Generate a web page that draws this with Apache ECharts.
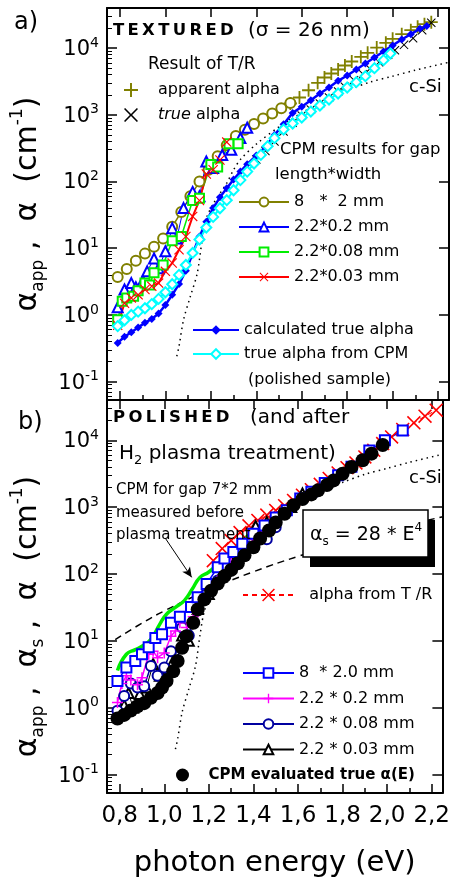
<!DOCTYPE html>
<html>
<head>
<meta charset="utf-8">
<style>
  html, body { margin: 0; padding: 0; background: #fff; }
  #chart { width: 453px; height: 882px; }
</style>
<script src="https://cdn.jsdelivr.net/npm/echarts@6/dist/echarts.min.js"></script>
</head>
<body>
<div id="chart"></div>
<script>
const FONT = 'DejaVu Sans';

// axis ranges and ticks
const xRange = [0.743, 2.248];
const yRange = [0.053, 40000];
const xMajorTicks = [0.8, 1.0, 1.2, 1.4, 1.6, 1.8, 2.0, 2.2];
const xMinorTicks = [0.9, 1.1, 1.3, 1.5, 1.7, 1.9, 2.1];
const yDecadeTicks = [0.1, 1, 10, 100, 1000, 10000];
const yMinorTicks = [0.06, 0.07, 0.08, 0.09, 0.2, 0.3, 0.4, 0.5, 0.6, 0.7, 0.8, 0.9,
  2, 3, 4, 5, 6, 7, 8, 9, 20, 30, 40, 50, 60, 70, 80, 90,
  200, 300, 400, 500, 600, 700, 800, 900, 2000, 3000, 4000, 5000, 6000, 7000, 8000, 9000,
  20000, 30000];

// ---- a) textured sample, [photon energy eV, alpha cm^-1]
const apparentTR = [[1.55,1480],[1.59,1820],[1.63,2340],[1.67,3020],[1.70,3630],[1.73,4170],[1.76,4790],
  [1.79,5500],[1.82,6310],[1.86,7410],[1.89,8510],[1.93,10200],[1.97,12000],[2.00,13800],[2.04,16200],
  [2.08,18600],[2.11,20900],[2.14,22900],[2.17,24500]];
const trueTR = [[1.40,214],[1.44,288],[1.48,398],[1.52,562],[1.56,759],[1.60,977],[1.64,1200],[1.68,1480],
  [1.72,1820],[1.76,2240],[1.79,2630],[1.83,3310],[1.87,4070],[1.90,4900],[1.94,6170],[1.98,7940],
  [2.01,9330],[2.05,11200],[2.09,14100],[2.13,18600],[2.17,24000]];
const cpm8x2 = [[0.79,3.7],[0.83,4.9],[0.87,6.5],[0.91,8.3],[0.95,10.5],[0.99,14],[1.03,21],[1.07,35],
  [1.11,60],[1.15,100],[1.19,150],[1.23,240],[1.27,350],[1.31,480],[1.35,600],[1.39,730],[1.43,880],
  [1.47,1050],[1.51,1260],[1.55,1500]];
const cpm22x02 = [[0.79,1.3],[0.82,2.4],[0.85,3.0],[0.87,2.6],[0.90,3.2],[0.92,4.5],[0.95,7.0],[0.97,5.0],
  [1.00,9.0],[1.03,20],[1.05,14],[1.08,40],[1.12,70],[1.15,60],[1.18,200],[1.21,160],[1.25,250],
  [1.29,300],[1.33,450],[1.36,640]];
const cpm22x008 = [[0.79,0.85],[0.81,1.6],[0.83,1.8],[0.86,1.9],[0.88,2.3],[0.91,3.0],[0.93,2.8],[0.95,4.3],
  [0.99,5.6],[1.03,13],[1.07,15],[1.12,52],[1.15,56],[1.20,180],[1.23,165],[1.28,370],[1.32,370]];
const cpm22x003 = [[0.79,0.7],[0.82,1.5],[0.85,1.8],[0.88,2.0],[0.91,2.4],[0.94,2.7],[0.97,3.0],[1.00,4.5],
  [1.03,6.0],[1.06,9.5],[1.09,15],[1.12,30],[1.15,52],[1.18,130],[1.21,150],[1.24,210],[1.27,390]];
const calcTrue = [[0.79,0.38],[0.82,0.47],[0.85,0.55],[0.88,0.65],[0.91,0.76],[0.94,0.87],[0.97,1.05],
  [1.00,1.41],[1.03,2.0],[1.06,2.9],[1.09,4.6],[1.12,8.3],[1.15,15],[1.18,25],[1.21,40],[1.24,58],
  [1.27,79],[1.30,107],[1.33,141],[1.36,182],[1.40,245],[1.44,331],[1.48,500],[1.52,724],[1.56,1070],
  [1.60,1320],[1.64,1660],[1.68,2090],[1.72,2570],[1.76,3240],[1.80,3890],[1.84,4790],[1.88,5890],
  [1.92,7240],[1.96,8910],[2.00,11000],[2.04,13500],[2.08,16200],[2.12,19500],[2.15,21400]];
const cpmTruePolished = [[0.79,0.68],[0.82,0.83],[0.85,1.0],[0.88,1.12],[0.91,1.26],[0.94,1.45],[0.97,1.74],
  [1.00,2.19],[1.03,2.88],[1.06,3.98],[1.09,5.6],[1.12,8.5],[1.15,13.5],[1.18,20.4],[1.21,29.5],
  [1.24,39.8],[1.27,52.5],[1.30,74],[1.33,105],[1.36,141],[1.39,186],[1.42,251],[1.45,339],[1.48,447],
  [1.52,603],[1.56,741],[1.60,912],[1.64,1120],[1.68,1380],[1.72,1700],[1.76,2090],[1.80,2570],
  [1.84,3090],[1.88,3800],[1.92,5010],[1.96,6610],[1.99,8320]];
const cSi = [[1.05,0.24],[1.06,0.34],[1.08,0.85],[1.11,1.9],[1.14,4.2],[1.16,12],[1.18,28],[1.21,46],
  [1.24,66],[1.27,95],[1.30,150],[1.33,214],[1.40,363],[1.50,660],[1.60,1070],[1.70,1660],[1.80,2340],
  [1.90,3090],[2.00,3800],[2.10,4680],[2.25,6170]];

// ---- b) polished sample
const trueCPM = [[0.79,0.69],[0.82,0.78],[0.85,0.91],[0.88,1.05],[0.91,1.17],[0.94,1.41],[0.97,1.66],
  [0.99,2.0],[1.01,2.5],[1.04,3.5],[1.06,5.0],[1.08,7.9],[1.10,11.7],[1.13,18.6],[1.15,29.5],[1.18,41.7],
  [1.21,56],[1.24,72],[1.27,93],[1.30,115],[1.33,145],[1.36,190],[1.40,251],[1.43,339],[1.47,447],
  [1.50,589],[1.54,794],[1.58,1070],[1.62,1320],[1.66,1550],[1.69,1780],[1.73,2140],[1.76,2510],
  [1.80,3160],[1.84,3980],[1.89,5010],[1.93,6310],[1.98,8510]];
const alphaTR = [[1.22,158],[1.26,240],[1.30,316],[1.34,417],[1.38,525],[1.42,631],[1.46,759],[1.50,891],
  [1.54,1050],[1.58,1260],[1.62,1510],[1.66,1820],[1.70,2190],[1.74,2690],[1.78,3240],[1.82,3890],
  [1.86,4570],[1.90,5620],[1.94,7080],[1.98,8910],[2.02,11200],[2.07,14500],[2.12,18200],[2.17,22900],
  [2.22,28200]];
const gap8x20 = [[0.79,2.5],[0.83,4.0],[0.87,5.0],[0.90,6.3],[0.93,8.0],[0.96,11],[0.99,12.6],[1.03,18.6],
  [1.07,23],[1.12,32],[1.15,45],[1.19,71],[1.24,126],[1.27,170],[1.31,214],[1.35,282],[1.40,400],
  [1.45,530],[1.50,700],[1.55,900],[1.61,1350],[1.66,1700],[1.72,2300],[1.78,3000],[1.84,4000],
  [1.92,7000],[1.99,10000],[2.07,14000]];
const gap22x02 = [[0.79,1.2],[0.81,2.3],[0.83,3.0],[0.85,2.6],[0.88,2.2],[0.90,2.8],[0.93,6.3],[0.95,7.0],
  [0.97,5.6],[1.00,6.6],[1.03,11.7],[1.05,14],[1.07,18.6],[1.10,15.8],[1.13,23],[1.17,40],[1.21,56],
  [1.26,93],[1.30,150],[1.35,214],[1.40,330],[1.44,420]];
const gap22x008 = [[0.79,0.9],[0.82,1.5],[0.85,2.3],[0.88,2.0],[0.91,2.1],[0.94,4.2],[0.97,3.0],[1.00,4.0],
  [1.03,7.0],[1.06,5.0],[1.08,15.8],[1.11,12],[1.15,40],[1.19,50],[1.24,80],[1.28,130],[1.33,200],
  [1.37,260],[1.42,340],[1.46,330],[1.50,500]];
const gap22x003 = [[0.82,1.1],[0.84,1.66],[0.86,1.0],[0.89,1.6],[0.92,2.0],[0.95,4.5],[0.98,3.0],[1.01,3.8],
  [1.04,5.0],[1.08,12],[1.11,10],[1.15,30],[1.20,50],[1.25,90],[1.30,160],[1.36,280],[1.41,520],
  [1.46,600],[1.52,800],[1.57,1000],[1.62,1600]];
const gap7x2Before = [[0.79,3.6],[0.83,6.3],[0.87,7.4],[0.90,8.3],[0.94,10.5],[0.98,17.8],[1.01,25],
  [1.05,31.6],[1.09,40],[1.125,59],[1.16,89],[1.20,107],[1.24,141],[1.28,190],[1.32,250],[1.36,340],
  [1.40,420],[1.44,540],[1.49,600]];
const alphaS = [[0.78,10.4],[0.9,18.4],[1.0,28],[1.2,58],[1.4,108],[1.6,183],[1.8,294],[2.0,448],[2.25,720]];
const arrowFrom = [1.006, 337];
const arrowTo = [1.123, 89];

const PLUS = 'path://M4.3,0H5.7V4.3H10V5.7H5.7V10H4.3V5.7H0V4.3H4.3Z';
const CROSS = 'path://M0.8,0L5,4.2L9.2,0L10,0.8L5.8,5L10,9.2L9.2,10L5,5.8L0.8,10L0,9.2L4.2,5L0,0.8Z';

const chart = echarts.init(document.getElementById('chart'));

function xAxes(gridIndex, withLabels) {
  const base = { type: 'value', gridIndex, min: xRange[0], max: xRange[1], splitLine: { show: false } };
  return [
    Object.assign({}, base, {
      position: 'bottom',
      axisLine: { show: true, onZero: false, lineStyle: { color: '#000', width: 2 } },
      axisTick: { show: true, inside: true, length: 9, customValues: xMajorTicks, lineStyle: { color: '#000', width: 1.5 } },
      axisLabel: {
        show: withLabels, customValues: xMajorTicks, margin: 12, color: '#000', fontSize: 23, fontFamily: FONT,
        formatter: v => v.toFixed(1).replace('.', ',')
      },
      name: withLabels ? 'photon energy (eV)' : '',
      nameLocation: 'middle', nameGap: 56,
      nameTextStyle: { fontSize: 29, fontFamily: FONT, color: '#000' }
    }),
    Object.assign({}, base, {
      position: 'bottom',
      axisLine: { show: false, onZero: false },
      axisTick: { show: true, inside: true, length: 5, customValues: xMinorTicks, lineStyle: { color: '#000', width: 1.5 } },
      axisLabel: { show: false }
    }),
    Object.assign({}, base, {
      position: 'top',
      axisLine: { show: true, onZero: false, lineStyle: { color: '#000', width: 2 } },
      axisTick: { show: true, inside: true, length: 9, customValues: xMajorTicks, lineStyle: { color: '#000', width: 1.5 } },
      axisLabel: { show: false }
    })
  ];
}

function yAxes(gridIndex, name, namePad) {
  const base = { type: 'log', logBase: 10, gridIndex, min: yRange[0], max: yRange[1], splitLine: { show: false } };
  return [
    Object.assign({}, base, {
      position: 'left',
      axisLine: { show: true, lineStyle: { color: '#000', width: 2 } },
      axisTick: { show: true, inside: true, length: 10, customValues: yDecadeTicks, lineStyle: { color: '#000', width: 1.5 } },
      axisLabel: {
        customValues: yDecadeTicks, margin: 8, color: '#000',
        formatter: v => '{b|10}{s|' + Math.round(Math.log10(v)) + '}',
        rich: {
          b: { fontSize: 21, fontFamily: FONT, color: '#000', lineHeight: 24, verticalAlign: 'bottom' },
          s: { fontSize: 14, fontFamily: FONT, color: '#000', lineHeight: 14, verticalAlign: 'top' }
        }
      },
      name: name, nameLocation: 'middle', nameRotate: 90, nameGap: 50,
      nameTextStyle: {
        padding: namePad,
        rich: {
          a: { fontSize: 30, fontFamily: FONT, color: '#000', lineHeight: 38 },
          sub: { fontSize: 17, fontFamily: FONT, color: '#000', lineHeight: 17, verticalAlign: 'bottom' },
          sup: { fontSize: 17, fontFamily: FONT, color: '#000', lineHeight: 17, verticalAlign: 'top' }
        }
      }
    }),
    Object.assign({}, base, {
      position: 'left',
      axisLine: { show: false },
      axisTick: { show: true, inside: true, length: 5, customValues: yMinorTicks, lineStyle: { color: '#000', width: 1 } },
      axisLabel: { show: false }
    }),
    Object.assign({}, base, {
      position: 'right',
      axisLine: { show: true, lineStyle: { color: '#000', width: 2 } },
      axisTick: { show: true, inside: true, length: 10, customValues: yDecadeTicks, lineStyle: { color: '#000', width: 1.5 } },
      axisLabel: { show: false }
    })
  ];
}

// series helpers: top panel uses axis index 0, bottom panel axis index 3
function line(name, data, panel, color, width, symbol, size, extra) {
  const empty = typeof symbol === 'string' && symbol.indexOf('empty') === 0;
  return Object.assign({
    name, type: 'line', data, xAxisIndex: panel, yAxisIndex: panel,
    symbol, symbolSize: size, color,
    lineStyle: { color, width },
    itemStyle: empty ? { color, borderColor: color, borderWidth: 1.3 } : { color, borderWidth: 0 },
    emphasis: { disabled: true }
  }, extra || {});
}
function scatter(name, data, panel, color, symbol, size, z) {
  return {
    name, type: 'scatter', data, xAxisIndex: panel, yAxisIndex: panel, z: z || 2,
    symbol, symbolSize: size, color, itemStyle: { color, borderWidth: 0, opacity: 1 }, emphasis: { disabled: true }
  };
}

const legendText = { fontSize: 16, fontFamily: FONT, color: '#000', lineHeight: 16 };

const option = {
  animation: false,
  backgroundColor: '#fff',
  grid: [
    { left: 107, top: 8, width: 342, height: 392 },
    { left: 107, top: 400, width: 342, height: 393 }
  ],
  xAxis: xAxes(0, false).concat(xAxes(1, true)),
  yAxis: yAxes(0, '{a|α}{sub|app}{a| ,  α  (cm}{sup|-1}{a|)}', [0, 0, 0, 0])
    .concat(yAxes(1, '{a|α}{sub|app}{a| ,  α}{sub|s}{a| ,  α  (cm}{sup|-1}{a|)}', [0, 40, 0, 0])),
  legend: [
    {
      left: 124, top: 82, orient: 'vertical', padding: 0, itemWidth: 44, itemHeight: 14, itemGap: 9,
      data: ['apparent alpha', 'true alpha'], selectedMode: false,
      formatter: n => n === 'true alpha' ? '{i|true} alpha' : n,
      textStyle: Object.assign({}, legendText, { rich: { i: { fontSize: 16, fontFamily: FONT, fontStyle: 'italic', color: '#000' } } })
    },
    {
      left: 238, top: 194, orient: 'vertical', padding: 0, itemWidth: 50, itemHeight: 11, itemGap: 9,
      data: ['8   *  2 mm', '2.2*0.2 mm', '2.2*0.08 mm', '2.2*0.03 mm'], selectedMode: false,
      textStyle: legendText
    },
    {
      left: 192, top: 322, orient: 'vertical', padding: 0, itemWidth: 46, itemHeight: 12, itemGap: 8,
      data: ['calculated true alpha', 'true alpha from CPM'], selectedMode: false,
      textStyle: legendText
    },
    {
      left: 242, top: 587, orient: 'vertical', padding: 0, itemWidth: 51, itemHeight: 16,
      data: ['alpha from T /R'], selectedMode: false, formatter: n => '  ' + n,
      textStyle: legendText
    },
    {
      left: 242, top: 665, orient: 'vertical', padding: 0, itemWidth: 51, itemHeight: 12, itemGap: 9.5,
      data: ['8  * 2.0 mm', '2.2 * 0.2 mm', '2.2 * 0.08 mm', '2.2 * 0.03 mm'], selectedMode: false,
      textStyle: legendText
    },
    {
      left: 176, top: 767, orient: 'vertical', padding: 0, itemWidth: 42, itemHeight: 13,
      data: ['CPM evaluated true α(E)'], selectedMode: false,
      textStyle: { fontSize: 15, fontWeight: 'bold', fontFamily: FONT, color: '#000', lineHeight: 16 }
    }
  ],
  series: [
    // ---- panel a
    line('c-Si a', cSi, 0, '#000', 1.5, 'none', 0, { lineStyle: { color: '#000', width: 1.5, type: [1.5, 4] }, smooth: 0.3 }),
    scatter('apparent alpha', apparentTR, 0, '#808000', PLUS, 13),
    scatter('true alpha', trueTR, 0, '#000', CROSS, 9),
    line('8   *  2 mm', cpm8x2, 0, '#808000', 1.5, 'emptyCircle', 10),
    line('2.2*0.2 mm', cpm22x02, 0, '#0000ff', 1, 'emptyTriangle', 10),
    line('2.2*0.08 mm', cpm22x008, 0, '#00ee00', 1.5, 'emptyRect', 9),
    line('2.2*0.03 mm', cpm22x003, 0, '#ff0000', 2, CROSS, 10),
    line('calculated true alpha', calcTrue, 0, '#0000ff', 2.5, 'diamond', 8),
    line('true alpha from CPM', cpmTruePolished, 0, '#00ffff', 2, 'emptyDiamond', 10),
    // ---- panel b
    line('c-Si b', cSi, 3, '#000', 1.5, 'none', 0, { lineStyle: { color: '#000', width: 1.5, type: [1.5, 4] }, smooth: 0.3 }),
    line('alpha_s', alphaS, 3, '#000', 1.5, 'none', 0, { lineStyle: { color: '#000', width: 1.5, type: [7, 5] }, smooth: true }),
    line('alpha from T /R', alphaTR, 3, '#ff0000', 1, CROSS, 14, { lineStyle: { color: '#ff0000', width: 1, type: [5, 4] } }),
    line('2.2 * 0.03 mm', gap22x003, 3, '#000', 1, 'emptyTriangle', 10),
    line('2.2 * 0.08 mm', gap22x008, 3, '#0000a0', 1.5, 'emptyCircle', 10),
    line('2.2 * 0.2 mm', gap22x02, 3, '#ff00ff', 1.5, PLUS, 11),
    line('8  * 2.0 mm', gap8x20, 3, '#0000ff', 1.5, 'emptyRect', 10),
    line('CPM 7*2 before plasma', gap7x2Before, 3, '#00ee00', 3.5, 'none', 0, {
      smooth: 0.5,
      markLine: {
        silent: true, symbol: ['none', 'arrow'], symbolSize: [7, 10],
        lineStyle: { color: '#000', width: 1, type: 'solid' }, label: { show: false },
        data: [[{ coord: arrowFrom }, { coord: arrowTo }]]
      }
    }),
    scatter('CPM evaluated true α(E)', trueCPM, 3, '#000', 'circle', 14, 5)
  ],
  graphic: [
    { type: 'text', x: 14, y: 23, z: 100, style: { text: 'a)', fontSize: 24, fontFamily: FONT, fill: '#000', verticalAlign: 'middle' } },
    { type: 'text', x: 18, y: 423, z: 100, style: { text: 'b)', fontSize: 24, fontFamily: FONT, fill: '#000', verticalAlign: 'middle' } },
    { type: 'text', x: 113, y: 31, z: 100, style: { text: 'T\u2009E\u2009X\u2009T\u2009U\u2009R\u2009E\u2009D', fontSize: 16.5, fontWeight: 'bold', fontFamily: FONT, fill: '#000', verticalAlign: 'middle' } },
    { type: 'text', x: 248, y: 31, z: 100, style: { text: '(σ = 26 nm)', fontSize: 20, fontFamily: FONT, fill: '#000', verticalAlign: 'middle' } },
    { type: 'text', x: 148, y: 65, z: 100, style: { text: 'Result of T/R', fontSize: 17, fontFamily: FONT, fill: '#000', verticalAlign: 'middle' } },
    { type: 'text', x: 280, y: 150, z: 100, style: { text: 'CPM results for gap', fontSize: 16.5, fontFamily: FONT, fill: '#000', verticalAlign: 'middle' } },
    { type: 'text', x: 275, y: 175, z: 100, style: { text: 'length*width', fontSize: 16.5, fontFamily: FONT, fill: '#000', verticalAlign: 'middle' } },
    { type: 'text', x: 248, y: 380, z: 100, style: { text: '(polished sample)', fontSize: 16, fontFamily: FONT, fill: '#000', verticalAlign: 'middle' } },
    { type: 'text', x: 409, y: 87, z: 100, style: { text: 'c-Si', fontSize: 18, fontFamily: FONT, fill: '#000', verticalAlign: 'middle' } },
    { type: 'text', x: 113, y: 418, z: 100, style: { text: 'P\u2009O\u2009L\u2009I\u2009S\u2009H\u2009E\u2009D', fontSize: 16.5, fontWeight: 'bold', fontFamily: FONT, fill: '#000', verticalAlign: 'middle' } },
    { type: 'text', x: 250, y: 418, z: 100, style: { text: '(and after', fontSize: 20, fontFamily: FONT, fill: '#000', verticalAlign: 'middle' } },
    {
      type: 'text', x: 119, y: 454, z: 100, style: {
        text: '{a|H}{s|2}{a| plasma treatment)}', verticalAlign: 'middle',
        rich: {
          a: { fontSize: 20, fontFamily: FONT, fill: '#000', lineHeight: 26 },
          s: { fontSize: 13, fontFamily: FONT, fill: '#000', lineHeight: 13, verticalAlign: 'bottom' }
        }
      }
    },
    { type: 'text', x: 409, y: 478, z: 100, style: { text: 'c-Si', fontSize: 18, fontFamily: FONT, fill: '#000', verticalAlign: 'middle' } },
    { type: 'text', x: 116, y: 490, z: 100, style: { text: 'CPM for gap 7*2 mm', fontSize: 15, fontFamily: FONT, fill: '#000', verticalAlign: 'middle' } },
    { type: 'text', x: 116, y: 513, z: 100, style: { text: 'measured before', fontSize: 15, fontFamily: FONT, fill: '#000', verticalAlign: 'middle' } },
    { type: 'text', x: 116, y: 535, z: 100, style: { text: 'plasma treatment', fontSize: 15, fontFamily: FONT, fill: '#000', verticalAlign: 'middle' } },
    { type: 'rect', z: 100, shape: { x: 310, y: 520, width: 125, height: 47 }, style: { fill: '#000' } },
    { type: 'rect', z: 101, shape: { x: 303, y: 510, width: 125, height: 47 }, style: { fill: '#fff', stroke: '#000', lineWidth: 1.5 } },
    {
      type: 'text', x: 366, y: 535, z: 102, style: {
        text: '{a|α}{s|s}{a| = 28 * E}{p|4}', align: 'center', verticalAlign: 'middle',
        rich: {
          a: { fontSize: 19, fontFamily: FONT, fill: '#000', lineHeight: 26 },
          s: { fontSize: 12, fontFamily: FONT, fill: '#000', lineHeight: 12, verticalAlign: 'bottom' },
          p: { fontSize: 12, fontFamily: FONT, fill: '#000', lineHeight: 12, verticalAlign: 'top' }
        }
      }
    }
  ]
};

chart.setOption(option);
</script>
</body>
</html>
